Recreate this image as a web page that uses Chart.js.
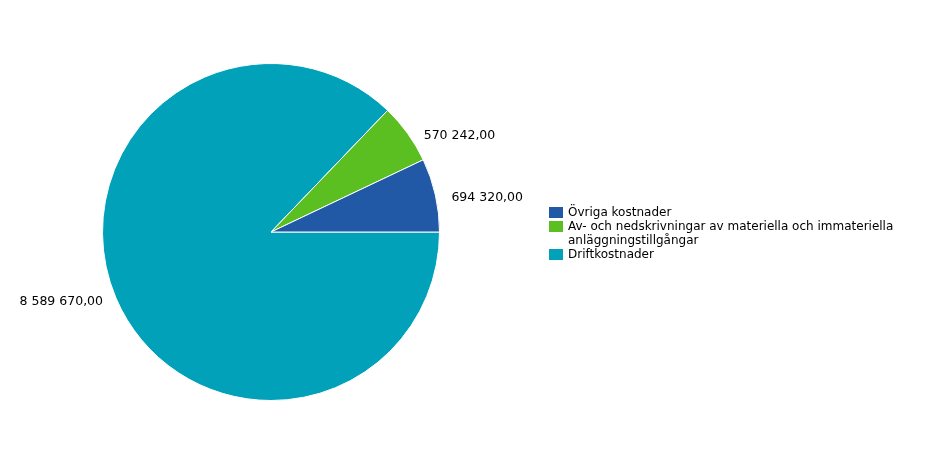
<!DOCTYPE html>
<html>
<head>
<meta charset="utf-8">
<script src="https://cdn.jsdelivr.net/npm/chart.js@4"></script>
<style>
  html, body { margin: 0; padding: 0; background: #fff; }
  #wrap { position: relative; width: 937px; height: 470px; }
  #legend { position: absolute; left: 549px; top: 205px; font-family: "DejaVu Sans", Verdana, sans-serif; font-size: 12px; line-height: 14px; color: #000; }
  #legend .item { display: flex; align-items: flex-start; }
  #legend .box { width: 14px; height: 11px; margin-top: 2px; margin-right: 5px; flex: none; }
  #legend .txt { width: 340px; }
</style>
</head>
<body>
<div id="wrap">
  <canvas id="pieChart" width="937" height="470"></canvas>
  <div id="legend"></div>
</div>
<script>
// --------------------- Data ------------------------
const categories = ['Övriga kostnader', 'Av- och nedskrivningar av materiella och immateriella anläggningstillgångar', 'Driftkostnader'];
const values = [694320.00, 570242.00, 8589670.00];
const valueLabels = ['694 320,00', '570 242,00', '8 589 670,00'];
const colors = ['#2159a6', '#5bbf21', '#00a1b9'];

// slices are drawn counterclockwise from 3 o'clock, so feed them reversed
const drawOrder = [2, 1, 0];

// --------------------- Value labels outside the pie ------------------------
const outsideLabels = {
    id: 'outsideLabels',
    afterDatasetsDraw(chart) {
        const ctx = chart.ctx;
        const meta = chart.getDatasetMeta(0);
        ctx.save();
        ctx.font = '12.5px "DejaVu Sans", Verdana, sans-serif';
        ctx.fillStyle = '#000';
        ctx.textBaseline = 'middle';
        meta.data.forEach((arc, i) => {
            const p = arc.getProps(['x', 'y', 'startAngle', 'endAngle', 'outerRadius'], true);
            const mid = (p.startAngle + p.endAngle) / 2;
            const cos = Math.cos(mid), sin = Math.sin(mid);
            const right = cos >= 0;
            const x = p.x + p.outerRadius * cos + (right ? 16 : -13);
            const y = p.y + (p.outerRadius + 2) * sin + 3;
            ctx.textAlign = right ? 'left' : 'right';
            ctx.fillText(valueLabels[drawOrder[i]], x, y);
        });
        ctx.restore();
    }
};

// --------------------- Pie chart ------------------------
const ctx = document.getElementById('pieChart').getContext('2d');
let pieChart = new Chart(ctx, {
    type: 'pie',
    data: {
        labels: drawOrder.map(i => categories[i]),
        datasets: [{
            data: drawOrder.map(i => values[i]),
            backgroundColor: drawOrder.map(i => colors[i]),
            borderColor: '#ffffff',
            borderWidth: 1
        }]
    },
    options: {
        responsive: false,
        animation: false,
        rotation: 90,
        layout: { padding: { left: 102, right: 497, top: 63, bottom: 69 } },
        plugins: {
            legend: { display: false },
            tooltip: { enabled: false }
        }
    },
    plugins: [outsideLabels]
});

// --------------------- Legend ------------------------
const legend = document.getElementById('legend');
categories.forEach((c, i) => {
    let row = document.createElement('div');
    row.className = 'item';
    row.innerHTML = '<span class="box" style="background:' + colors[i] + '"></span><span class="txt">' + c + '</span>';
    legend.appendChild(row);
});
</script>
</body>
</html>
